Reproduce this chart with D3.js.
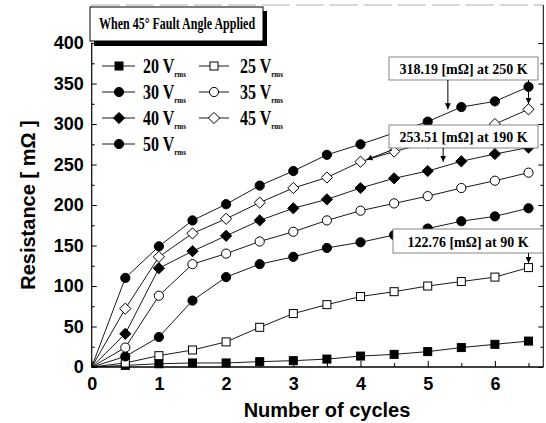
<!DOCTYPE html>
<html><head><meta charset="utf-8">
<script src="https://cdn.jsdelivr.net/npm/d3@7"></script>
<style>body{margin:0;background:#fff} svg{display:block}</style>
</head><body><svg id="chart" width="546" height="423"></svg>
<script>
// Resistance growth per cycle for each applied voltage (45° fault angle)
const cycles = [0, 0.5, 1, 1.5, 2, 2.5, 3, 3.5, 4, 4.5, 5, 5.5, 6, 6.5];
const r20 = [0, 2, 4, 5, 5, 6.6, 7.8, 9.8, 13.5, 15.6, 19, 24, 28, 32];
const r25 = [0, 5, 14, 21, 31, 49, 66, 77, 87, 93, 100, 105.5, 111, 122.76];
const r30 = [0, 13, 37, 82, 111, 127, 136, 147, 154, 163, 171, 180, 186, 196];
const r35 = [0, 24, 88, 127, 140, 155, 167, 181, 193, 202, 211, 221, 230, 240];
const r40 = [0, 41, 122, 143, 162, 181, 196, 207, 221, 233, 242, 254, 263, 271];
const r45 = [0, 72, 136, 165, 183, 203, 221, 234, 253.51, 266, 277, 289, 300, 318.19];
const r50 = [0, 110, 149, 181, 201, 224, 242, 262, 275, 289, 303, 321, 328, 346];
const voltages = [20, 25, 30, 35, 40, 45, 50];
const markerShapes = ["square", "square", "circle", "circle", "diamond", "diamond", "circle"];
const markerFilled = [true, false, true, false, true, false, true];
const yTicks = [0, 50, 100, 150, 200, 250, 300, 350, 400];
const xTicks = [0, 1, 2, 3, 4, 5, 6];
const titleText = "When 45° Fault Angle Applied";
const noteTexts = ["318.19 [mΩ] at 250 K", "253.51 [mΩ] at 190 K", "122.76 [mΩ] at 90 K"];
const noteValues = [318.19, 253.51, 122.76];

const allSeries = [r20, r25, r30, r35, r40, r45, r50];

const svg = d3.select("#chart");
const pL = 91.7, pR = 543.3, pB = 367, pT = 5;
const x = d3.scaleLinear().domain([0, 6.72]).range([pL, pR]);
const y = d3.scaleLinear().domain([0, 447]).range([pB, pT]);

const serif = "'Liberation Serif', 'Times New Roman', serif";
const sans = "'Liberation Sans', Arial, sans-serif";

// arrowhead
svg.append("defs").append("marker")
  .attr("id", "arrow").attr("viewBox", "0 0 10 10")
  .attr("refX", 10).attr("refY", 5)
  .attr("markerWidth", 6).attr("markerHeight", 6)
  .attr("markerUnits", "userSpaceOnUse")
  .attr("orient", "auto")
  .append("path").attr("d", "M0,0 L10,5 L0,10 Z").attr("fill", "#000");

// frame
svg.append("line").attr("x1", pL).attr("x2", pR).attr("y1", pT).attr("y2", pT)
  .attr("stroke", "#999").attr("stroke-width", 0.8).attr("stroke-dasharray", "28,6");
svg.append("line").attr("x1", pL).attr("x2", pL).attr("y1", pT).attr("y2", y(400))
  .attr("stroke", "#999").attr("stroke-width", 0.8);
svg.append("line").attr("x1", pL).attr("x2", pL).attr("y1", y(400)).attr("y2", pB)
  .attr("stroke", "#000").attr("stroke-width", 1.2);
svg.append("line").attr("x1", pR).attr("x2", pR).attr("y1", pT).attr("y2", pB)
  .attr("stroke", "#000").attr("stroke-width", 1);
svg.append("line").attr("x1", pL).attr("x2", pR).attr("y1", pB).attr("y2", pB)
  .attr("stroke", "#000").attr("stroke-width", 1.4);

// axes with inward ticks
const yMinor = d3.range(25, 400, 50);
const xMinor = d3.range(0.5, 6.6, 1);

function styleAxis(g) {
  g.select(".domain").remove();
  g.selectAll("line").attr("stroke", "#000");
  g.selectAll("text").attr("font-family", sans).attr("font-weight", "bold")
    .attr("font-size", 18).attr("fill", "#000");
}

svg.append("g").attr("transform", `translate(${pL},0)`)
  .call(d3.axisLeft(y).tickValues(yTicks).tickSize(-5).tickPadding(8).tickFormat(d3.format("d")))
  .call(styleAxis);
svg.append("g").attr("transform", `translate(${pL},0)`)
  .call(d3.axisLeft(y).tickValues(yMinor).tickSize(-3).tickFormat(""))
  .call(styleAxis);
svg.append("g").attr("transform", `translate(${pR},0)`)
  .call(d3.axisRight(y).tickValues(yTicks).tickSize(-5).tickFormat(""))
  .call(styleAxis);
svg.append("g").attr("transform", `translate(${pR},0)`)
  .call(d3.axisRight(y).tickValues(yMinor).tickSize(-3).tickFormat(""))
  .call(styleAxis);
svg.append("g").attr("transform", `translate(0,${pB})`)
  .call(d3.axisBottom(x).tickValues(xTicks).tickSize(-6).tickPadding(10).tickFormat(d3.format("d")))
  .call(styleAxis);
svg.append("g").attr("transform", `translate(0,${pB})`)
  .call(d3.axisBottom(x).tickValues(xMinor).tickSize(-4).tickFormat(""))
  .call(styleAxis);

// axis titles
svg.append("text").attr("x", 327).attr("y", 417)
  .attr("text-anchor", "middle").attr("font-family", sans).attr("font-weight", "bold")
  .attr("font-size", 20).text("Number of cycles");
svg.append("text").attr("transform", `translate(35,${(y(0) + y(400)) / 2}) rotate(-90)`)
  .attr("text-anchor", "middle").attr("font-family", sans).attr("font-weight", "bold")
  .attr("font-size", 20).text("Resistance [ mΩ ]");

// marker drawing
function drawMarker(g, shape, filled, cx, cy) {
  const fill = filled ? "#000" : "#fff";
  if (shape === "circle") {
    g.append("circle").attr("cx", cx).attr("cy", cy).attr("r", 4.6)
      .attr("fill", fill).attr("stroke", "#000").attr("stroke-width", 1);
  } else if (shape === "square") {
    g.append("rect").attr("x", cx - 4).attr("y", cy - 4).attr("width", 8).attr("height", 8)
      .attr("fill", fill).attr("stroke", "#000").attr("stroke-width", 1);
  } else {
    const h = 5.6;
    g.append("path").attr("d", `M${cx},${cy - h}L${cx + h},${cy}L${cx},${cy + h}L${cx - h},${cy}Z`)
      .attr("fill", fill).attr("stroke", "#000").attr("stroke-width", 1);
  }
}

// series lines
const line = d3.line().x((d, i) => x(cycles[i])).y(d => y(d));
const plot = svg.append("g");
allSeries.forEach(s => {
  plot.append("path").datum(s).attr("d", line)
    .attr("fill", "none").attr("stroke", "#000").attr("stroke-width", 0.9);
});
allSeries.forEach((s, k) => {
  s.forEach((v, i) => {
    if (i === 0) return;
    drawMarker(plot, markerShapes[k], markerFilled[k], x(cycles[i]), y(v));
  });
});

// legend
const legend = svg.append("g");
const legendCols = [{lx1: 102, lx2: 135, mx: 119, tx: 143}, {lx1: 199, lx2: 229, mx: 214, tx: 240}];
const legendRows = [66, 92, 118, 144];
voltages.forEach((v, k) => {
  const col = legendCols[k % 2], ry = legendRows[Math.floor(k / 2)];
  legend.append("line").attr("x1", col.lx1).attr("x2", col.lx2).attr("y1", ry).attr("y2", ry)
    .attr("stroke", "#000").attr("stroke-width", 0.9);
  drawMarker(legend, markerShapes[k], markerFilled[k], col.mx, ry);
  const t = legend.append("text").attr("transform", `translate(${col.tx},${ry + 6.5}) scale(1,1.3)`)
    .attr("font-family", serif).attr("font-weight", "bold").attr("font-size", 16);
  t.append("tspan").text(`${v} V`);
  t.append("tspan").attr("font-size", 7).attr("dy", 3.5).text("rms");
});

// title box with shadow
svg.append("rect").attr("x", 94).attr("y", 11).attr("width", 173).attr("height", 35).attr("fill", "#000");
svg.append("rect").attr("x", 90).attr("y", 7).attr("width", 173).attr("height", 34)
  .attr("fill", "#fff").attr("stroke", "#000").attr("stroke-width", 1);
svg.append("text").attr("transform", "translate(99,29) scale(1,1.35)")
  .attr("font-family", serif).attr("font-weight", "bold").attr("font-size", 12).text(titleText);

// annotations
const noteBoxes = [
  {x0: 389, x1: 538, y0: 57, y1: 80},
  {x0: 389, x1: 538, y0: 125, y1: 148},
  {x0: 393, x1: 543, y0: 229, y1: 253}
];
const notes = svg.append("g");
function arrow(x1, y1, x2, y2) {
  notes.append("line").attr("x1", x1).attr("y1", y1).attr("x2", x2).attr("y2", y2)
    .attr("stroke", "#000").attr("stroke-width", 1).attr("marker-end", "url(#arrow)");
}
noteBoxes.forEach((b, i) => {
  notes.append("rect").attr("x", b.x0).attr("y", b.y0).attr("width", b.x1 - b.x0).attr("height", b.y1 - b.y0)
    .attr("fill", "#fff").attr("stroke", "#666").attr("stroke-width", 0.8);
  notes.append("text").attr("transform", `translate(${(b.x0 + b.x1) / 2},${b.y1 - 6}) scale(1,1.05)`)
    .attr("text-anchor", "middle").attr("font-family", serif).attr("font-weight", "bold")
    .attr("font-size", 14).text(noteTexts[i]);
});
// arrows towards the points where each value is reached
arrow(x(5.3), noteBoxes[0].y1, x(5.3), y(noteValues[0]));
arrow(x(6.5), noteBoxes[0].y1, x(6.5), y(noteValues[0]) - 5.5);
arrow(x(5.23), noteBoxes[1].y1, x(5.23), y(noteValues[1]));
arrow(noteBoxes[1].x0 + 3, noteBoxes[1].y1 + 2, x(4) + 6, y(noteValues[1]) - 2);
arrow(x(6.5), noteBoxes[2].y1, x(6.5), y(noteValues[2]) - 4.5);
</script></body></html>
